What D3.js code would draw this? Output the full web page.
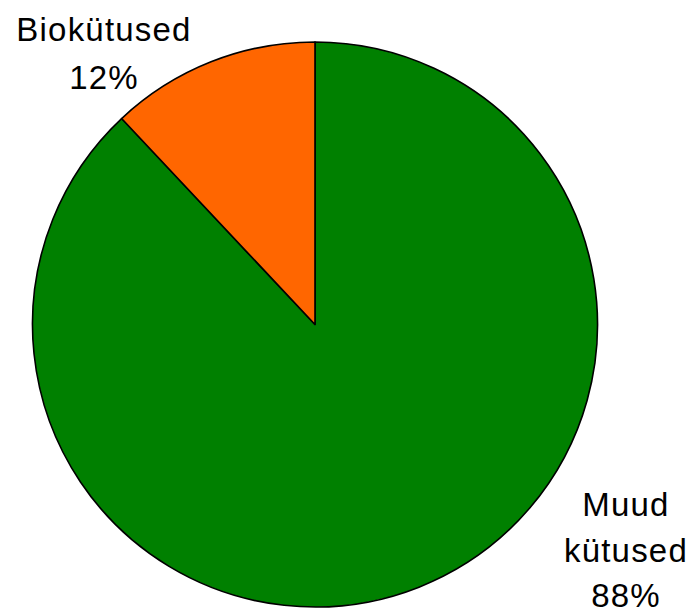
<!DOCTYPE html>
<html>
<head>
<meta charset="utf-8">
<script src="https://cdn.jsdelivr.net/npm/d3@7"></script>
<style>
    body { margin: 0; background: #fff; }
    text { font-family: "Liberation Sans", Arial, sans-serif; fill: #000; }
</style>
</head>
<body>
<svg id="chart" width="695" height="614"></svg>
<script>
// data
const categories = ["Muud kütused", "Biokütused"];
const shares = [88, 12];
const labelLines = [["Muud", "kütused", "88%"], ["Biokütused", "12%"]];
const colors = ["#008000", "#FF6600"];

let width = 695;
let height = 614;
let cx = 315;
let cy = 324.5;
let radius = 282.5;

let svg = d3.select("#chart");

let data = categories.map((c, i) => ({name: c, value: shares[i], lines: labelLines[i], color: colors[i]}));

let pie = d3.pie()
    .sort(null)
    .value(d => d.value);

let arc = d3.arc()
    .innerRadius(0)
    .outerRadius(radius);

let g = svg.append("g")
    .attr("transform", "translate(" + cx + "," + cy + ")");

g.selectAll("path")
    .data(pie(data))
    .enter().append("path")
    .attr("d", arc)
    .style("fill", d => d.data.color)
    .style("stroke", "#000")
    .style("stroke-width", 1.6)
    .style("stroke-linejoin", "round");

// label blocks sit outside the pie, roughly where the original tool put them
let labelPos = [
    {x: 626, y: 516, dy: 45.5},
    {x: 104, y: 40.5, dy: 48}
];

let labels = svg.selectAll("g.label")
    .data(data)
    .enter().append("g")
    .attr("class", "label");

labels.each(function(d, i) {
    let p = labelPos[i];
    d3.select(this).selectAll("text")
        .data(d.lines)
        .enter().append("text")
        .attr("x", p.x)
        .attr("y", (t, j) => p.y + j * p.dy)
        .attr("text-anchor", "middle")
        .style("font-size", "33px")
        .style("letter-spacing", "1.2px")
        .text(t => t);
});
</script>
</body>
</html>
